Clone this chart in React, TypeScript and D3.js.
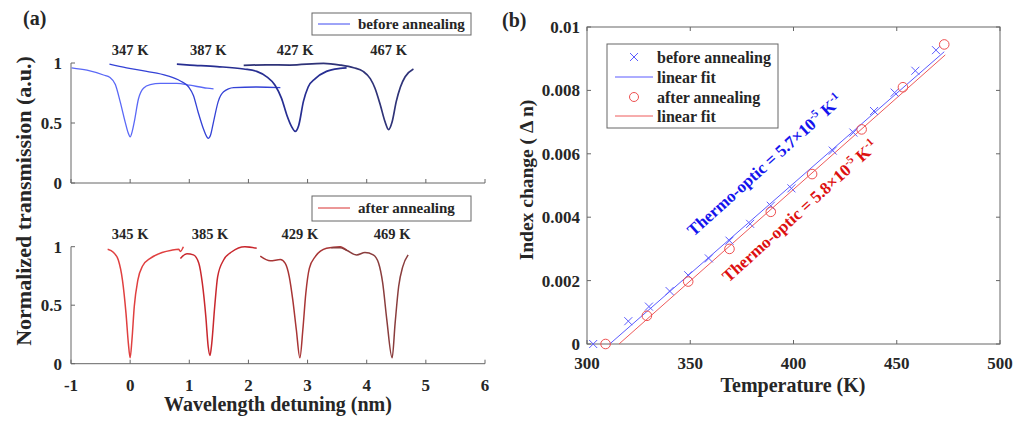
import React from 'react';
import * as d3 from 'd3';

// ---- panel (a): transmission spectra, [detuning nm, normalized T]
const topLabels = ['347 K', '387 K', '427 K', '467 K'];
const topLabelX = [0, 1.32, 2.79, 4.37];
const top347 = [[-0.99, 0.96], [-0.73, 0.94], [-0.45, 0.9], [-0.34, 0.88], [-0.25, 0.82], [-0.17, 0.68], [-0.085, 0.51], [-0.035, 0.42], [0, 0.385], [0.035, 0.43], [0.07, 0.51], [0.14, 0.7], [0.225, 0.79], [0.34, 0.82], [0.51, 0.83], [0.79, 0.83], [1.01, 0.815], [1.3, 0.79], [1.41, 0.785]];
const top387 = [[-0.35, 0.99], [-0.06, 0.96], [0.28, 0.93], [0.62, 0.895], [0.85, 0.85], [0.99, 0.8], [1.07, 0.73], [1.15, 0.59], [1.24, 0.45], [1.29, 0.39], [1.32, 0.372], [1.36, 0.4], [1.41, 0.51], [1.49, 0.68], [1.58, 0.76], [1.75, 0.795], [2.14, 0.8], [2.54, 0.795]];
const top427 = [[0.79, 0.99], [1.01, 0.983], [1.47, 0.97], [1.92, 0.95], [2.14, 0.93], [2.31, 0.885], [2.45, 0.815], [2.56, 0.705], [2.65, 0.565], [2.73, 0.47], [2.79, 0.43], [2.85, 0.48], [2.93, 0.68], [3.01, 0.8], [3.13, 0.87], [3.32, 0.93], [3.55, 0.955], [3.66, 0.96]];
const top467 = [[1.92, 0.98], [2.3, 0.985], [2.7, 0.983], [3.27, 0.997], [3.55, 0.983], [3.78, 0.96], [3.94, 0.93], [4.06, 0.87], [4.14, 0.79], [4.23, 0.65], [4.31, 0.51], [4.37, 0.445], [4.43, 0.51], [4.5, 0.68], [4.57, 0.8], [4.65, 0.885], [4.79, 0.95]];
const topColors = ['#5a68f6', '#3442d6', '#272e92', '#2f3378'];

const botLabels = ['345 K', '385 K', '429 K', '469 K'];
const botLabelX = [0, 1.35, 2.87, 4.43];
const bot345 = [[-0.38, 0.978], [-0.28, 0.95], [-0.2, 0.886], [-0.13, 0.715], [-0.07, 0.43], [-0.03, 0.174], [0, 0.05], [0.03, 0.2], [0.07, 0.49], [0.13, 0.715], [0.21, 0.835], [0.34, 0.9], [0.54, 0.95], [0.7, 0.97], [0.82, 0.978], [0.85, 0.96], [0.9, 1.0]];
const bot385 = [[0.85, 0.9], [0.96, 0.94], [1.07, 0.93], [1.16, 0.86], [1.22, 0.69], [1.28, 0.4], [1.32, 0.145], [1.35, 0.07], [1.38, 0.174], [1.43, 0.49], [1.48, 0.745], [1.58, 0.886], [1.72, 0.957], [1.94, 1.0], [2.14, 0.986]];
const bot429 = [[2.2, 0.92], [2.37, 0.88], [2.54, 0.89], [2.62, 0.86], [2.69, 0.745], [2.75, 0.545], [2.81, 0.29], [2.87, 0.05], [2.92, 0.29], [2.97, 0.6], [3.03, 0.815], [3.13, 0.915], [3.32, 0.986], [3.55, 1.0], [3.66, 0.97]];
const bot469 = [[3.4, 0.99], [3.55, 0.99], [3.66, 0.97], [3.83, 0.93], [3.97, 0.95], [4.11, 0.93], [4.2, 0.86], [4.27, 0.69], [4.34, 0.375], [4.43, 0.05], [4.48, 0.345], [4.54, 0.66], [4.61, 0.83], [4.7, 0.93]];
const botColors = ['#e04040', '#c9282e', '#a83535', '#8a3d3d'];

const detuneTicks = [-1, 0, 1, 2, 3, 4, 5, 6];
const transTicks = [0, 0.5, 1];

// ---- panel (b): index change vs temperature
const beforeT = [303, 320, 330, 340, 349, 359, 369, 379, 389, 399, 419, 429, 439, 449, 459, 469];
const beforeDn = [0, 0.00072, 0.00118, 0.00167, 0.00217, 0.0027, 0.00326, 0.00379, 0.00436, 0.00491, 0.0061, 0.00667, 0.00735, 0.00793, 0.00862, 0.00927];
const afterT = [309, 329, 349, 369, 389, 409, 433, 453, 473];
const afterDn = [0, 0.00089, 0.00197, 0.003, 0.00417, 0.00536, 0.00677, 0.0081, 0.00945];
const beforeFit = [[311, 0], [473, 0.00922]];
const afterFit = [[315.5, 0], [473.5, 0.00912]];
const tempTicks = [300, 350, 400, 450, 500];
const dnTicks = [0, 0.002, 0.004, 0.006, 0.008, 0.01];

const FONT = '"Liberation Serif", "Times New Roman", serif';
const TXT = '#262626';
const AX = '#666';

export default function App() {
  // scales for (a)
  const xA = d3.scaleLinear().domain([-1, 6]).range([71, 485]);
  const yTop = d3.scaleLinear().domain([0, 1]).range([183, 63]);
  const yBot = d3.scaleLinear().domain([0, 1]).range([363.7, 246.7]);
  const lineTop = d3.line<number[]>().x(d => xA(d[0])).y(d => yTop(d[1])).curve(d3.curveMonotoneX);
  const lineBot = d3.line<number[]>().x(d => xA(d[0])).y(d => yBot(d[1])).curve(d3.curveMonotoneX);

  // scales for (b)
  const xB = d3.scaleLinear().domain([300, 500]).range([587, 1000]);
  const yB = d3.scaleLinear().domain([0, 0.01]).range([344, 27]);
  const lineB = d3.line<number[]>().x(d => xB(d[0])).y(d => yB(d[1]));

  const topSeries = [top347, top387, top427, top467];
  const botSeries = [bot345, bot385, bot429, bot469];

  const axisA = (y: d3.ScaleLinear<number, number>, labels: boolean) => (
    <g>
      <line x1={xA(-1)} x2={xA(6)} y1={y(0)} y2={y(0)} stroke={AX} />
      <line x1={xA(-1)} x2={xA(-1)} y1={y(0)} y2={y(1)} stroke={AX} />
      {detuneTicks.map(t => (
        <g key={t}>
          <line x1={xA(t)} x2={xA(t)} y1={y(0)} y2={y(0) - 4} stroke={AX} />
          {labels && (
            <text x={xA(t)} y={y(0) + 27} textAnchor="middle" fontSize={17} fontWeight="bold" fill={TXT}>{t}</text>
          )}
        </g>
      ))}
      {transTicks.map(t => (
        <g key={t}>
          <line x1={xA(-1)} x2={xA(-1) + 4} y1={y(t)} y2={y(t)} stroke={AX} />
          <text x={xA(-1) - 9} y={y(t)} dy="0.35em" textAnchor="end" fontSize={17} fontWeight="bold" fill={TXT}>{t}</text>
        </g>
      ))}
    </g>
  );

  const sup = (s: string) => <tspan dy={-7} fontSize={11}>{s}</tspan>;

  const angle = -42;
  const blueC = [xB(386), yB(0.00565)];
  const redC = [xB(403), yB(0.0042)];

  return (
    <svg width={1014} height={421} style={{ position: 'absolute', left: 0, top: 0 }} fontFamily={FONT}>
      <rect width={1014} height={421} fill="#fff" />

      {/* ---------- panel (a) ---------- */}
      <text x={23} y={25} fontSize={20} fontWeight="bold" fill={TXT}>(a)</text>
      {axisA(yTop, false)}
      {axisA(yBot, true)}

      {topSeries.map((s, i) => (
        <path key={i} d={lineTop(s) ?? ''} fill="none" stroke={topColors[i]} strokeWidth={i >= 2 ? 1.7 : 1.3} />
      ))}
      {botSeries.map((s, i) => (
        <path key={i} d={lineBot(s) ?? ''} fill="none" stroke={botColors[i]} strokeWidth={1.5} />
      ))}

      {topLabels.map((l, i) => (
        <text key={l} x={xA(topLabelX[i])} y={55} textAnchor="middle" fontSize={14.5} fontWeight="bold" fill={TXT}>{l}</text>
      ))}
      {botLabels.map((l, i) => (
        <text key={l} x={xA(botLabelX[i])} y={239} textAnchor="middle" fontSize={14.5} fontWeight="bold" fill={TXT}>{l}</text>
      ))}

      {/* legends (a) */}
      <rect x={312} y={13} width={159} height={22} fill="#fff" stroke={AX} />
      <line x1={318} x2={350} y1={24} y2={24} stroke="#3c48f0" />
      <text x={358} y={29} fontSize={15} fontWeight="bold" fill={TXT}>before annealing</text>
      <rect x={312} y={196} width={159} height={25} fill="#fff" stroke={AX} />
      <line x1={318} x2={350} y1={208} y2={208} stroke="#d83030" />
      <text x={358} y={213} fontSize={15} fontWeight="bold" fill={TXT}>after annealing</text>

      <text x={278} y={411} textAnchor="middle" fontSize={20} fontWeight="bold" fill={TXT}>Wavelength detuning (nm)</text>
      <text transform="translate(23,201) rotate(-90)" textAnchor="middle" dy="0.35em" fontSize={22} fontWeight="bold" fill={TXT}>Normalized transmission (a.u.)</text>

      {/* ---------- panel (b) ---------- */}
      <text x={502} y={27} fontSize={20} fontWeight="bold" fill={TXT}>(b)</text>
      <rect x={xB(300)} y={yB(0.01)} width={xB(500) - xB(300)} height={yB(0) - yB(0.01)} fill="none" stroke={AX} />
      {tempTicks.map(t => (
        <g key={t}>
          <line x1={xB(t)} x2={xB(t)} y1={yB(0)} y2={yB(0) - 4} stroke={AX} />
          <line x1={xB(t)} x2={xB(t)} y1={yB(0.01)} y2={yB(0.01) + 4} stroke={AX} />
          <text x={xB(t)} y={369} textAnchor="middle" fontSize={17} fontWeight="bold" fill={TXT}>{t}</text>
        </g>
      ))}
      {dnTicks.map(t => (
        <g key={t}>
          <line x1={xB(300)} x2={xB(300) + 4} y1={yB(t)} y2={yB(t)} stroke={AX} />
          <line x1={xB(500)} x2={xB(500) - 4} y1={yB(t)} y2={yB(t)} stroke={AX} />
          <text x={580} y={yB(t)} dy="0.35em" textAnchor="end" fontSize={17} fontWeight="bold" fill={TXT}>{t}</text>
        </g>
      ))}

      <path d={lineB(beforeFit) ?? ''} stroke="#5b5bff" strokeWidth={1} fill="none" />
      <path d={lineB(afterFit) ?? ''} stroke="#ee5a5a" strokeWidth={1} fill="none" />
      {beforeT.map((t, i) => (
        <path key={t} transform={`translate(${xB(t)},${yB(beforeDn[i])})`} d="M-4,-4L4,4M-4,4L4,-4" stroke="#5b5bff" strokeWidth={1} />
      ))}
      {afterT.map((t, i) => (
        <circle key={t} cx={xB(t)} cy={yB(afterDn[i])} r={4.8} fill="none" stroke="#ee5050" strokeWidth={1} />
      ))}

      <text transform={`translate(${blueC[0]},${blueC[1]}) rotate(${angle})`} textAnchor="middle" dy="0.35em" fontSize={17} fontWeight="bold" fill="#1414ee">
        Thermo-optic = 5.7×10{sup('-5')}<tspan dy={7}> K</tspan>{sup('-1')}
      </text>
      <text transform={`translate(${redC[0]},${redC[1]}) rotate(${angle})`} textAnchor="middle" dy="0.35em" fontSize={17} fontWeight="bold" fill="#dd1010">
        Thermo-optic = 5.8×10{sup('-5')}<tspan dy={7}> K</tspan>{sup('-1')}
      </text>

      {/* legend (b) */}
      <rect x={607} y={44} width={171} height={84} fill="#fff" stroke={AX} />
      <path transform="translate(634,57)" d="M-4,-4L4,4M-4,4L4,-4" stroke="#5b5bff" strokeWidth={1} />
      <line x1={615} x2={653} y1={77} y2={77} stroke="#5b5bff" />
      <circle cx={634} cy={97} r={4.5} fill="none" stroke="#ee5050" />
      <line x1={615} x2={653} y1={116} y2={116} stroke="#ee5a5a" />
      {['before annealing', 'linear fit', 'after annealing', 'linear fit'].map((l, i) => (
        <text key={i} x={657} y={[57, 77, 97, 116][i]} dy="0.35em" fontSize={16} fontWeight="bold" fill={TXT}>{l}</text>
      ))}

      <text x={793} y={392} textAnchor="middle" fontSize={20} fontWeight="bold" fill={TXT}>Temperature (K)</text>
      <text transform="translate(526,180) rotate(-90)" textAnchor="middle" dy="0.35em" fontSize={19.5} fontWeight="bold" fill={TXT}>Index change ( Δ n)</text>
    </svg>
  );
}
